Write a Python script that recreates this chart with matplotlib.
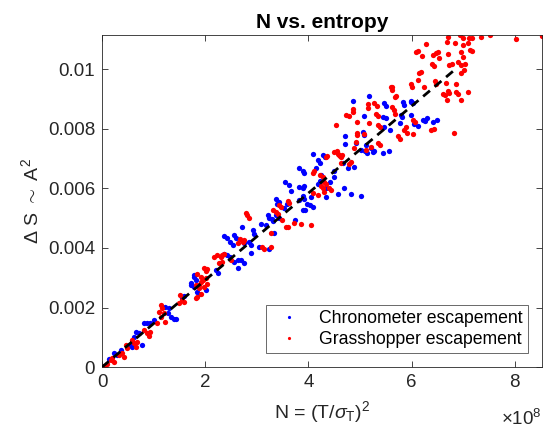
import numpy as np
import matplotlib
matplotlib.use("Agg")
import matplotlib.pyplot as plt
from matplotlib.ticker import FuncFormatter

plt.rcParams['font.family'] = ['Liberation Sans', 'DejaVu Sans']
plt.rcParams['mathtext.fontset'] = 'custom'
plt.rcParams['mathtext.rm'] = 'Liberation Sans'
plt.rcParams['mathtext.it'] = 'Liberation Sans:italic'

# N in units of 1e8, entropy in units of 1e-3
chrono_n = [5.99, 6.02, 5.99, 6.05, 6.12, 6.22, 6.30, 6.26, 6.41, 6.50,
            5.18, 4.87, 5.47, 5.50, 5.83, 5.86, 5.98, 5.08, 5.44, 5.50,
            5.80, 5.81, 5.78, 5.47, 5.05, 5.08, 5.59, 4.71, 4.71, 4.92,
            5.12, 5.02, 5.10, 5.14, 5.21, 5.25, 5.28, 5.44, 5.57, 4.68,
            4.77, 4.88, 5.02, 4.83, 4.70, 4.57, 4.34,
            4.08, 4.28, 4.32, 4.18, 4.23, 3.82, 3.89, 3.92, 4.15, 4.24,
            4.49, 4.50, 3.54, 3.63, 3.67, 3.82, 3.89, 3.92, 4.19, 4.23,
            4.34, 4.42, 3.89, 3.92, 4.05, 3.97, 4.03, 4.08, 3.89, 3.93,
            3.37, 3.43, 3.40, 3.53, 3.58, 3.74, 3.37, 3.32, 3.82,
            3.21, 3.24, 3.30, 3.43, 3.08, 3.17, 3.34, 2.72, 2.92, 2.95,
            2.37, 2.43, 2.56, 2.59, 2.48, 2.53, 2.75, 2.85, 2.88, 2.88,
            3.04, 3.24, 2.37, 2.43, 2.48, 2.56, 2.63, 2.69, 2.75, 2.63,
            2.20, 2.24, 1.78, 1.82, 1.72, 2.01,
            1.72, 1.78, 1.88, 1.85, 1.56, 1.59, 1.23, 1.30, 1.27, 1.33,
            1.39, 0.81, 0.88, 1.01, 0.65, 0.71, 0.55, 0.78, 0.59, 0.23,
            0.30, 0.36, 0.13, 0.62, 0.94, 1.43, 1.78]
chrono_ds = [8.94, 8.87, 8.46, 8.15, 8.09, 8.31, 8.35, 8.27, 8.23, 8.29,
             9.09, 8.94, 8.85, 8.76, 8.90, 8.79, 8.90, 8.42, 8.38, 8.35,
             8.46, 8.38, 8.18, 8.06, 7.90, 7.79, 7.95, 7.75, 7.48, 7.51,
             7.45, 7.28, 7.26, 7.19, 7.34, 7.22, 7.26, 7.19, 7.26, 6.86,
             6.70, 6.72, 5.75, 5.81, 6.01, 5.81, 5.71,
             7.15, 7.11, 7.04, 6.95, 6.86, 6.67, 6.59, 6.52, 6.67, 6.44,
             6.59, 6.39, 6.22, 6.11, 5.92, 6.05, 6.00, 6.07, 6.16, 6.25,
             6.00, 6.22, 5.74, 5.63, 5.71, 5.49, 5.44, 5.38, 5.29, 5.27,
             5.63, 5.55, 5.47, 5.33, 5.49, 4.93, 5.10, 4.91, 5.60,
             5.10, 4.99, 4.96, 4.99, 4.82, 4.77, 4.49, 4.69, 4.60, 4.46,
             4.40, 4.35, 4.43, 4.32, 4.20, 4.09, 4.15, 4.20, 4.09, 3.84,
             4.04, 3.98, 3.81, 3.76, 3.70, 3.53, 3.59, 3.59, 3.48, 3.31,
             3.26, 3.16, 3.09, 2.92, 2.75, 2.58,
             2.81, 2.69, 2.47, 2.53, 2.31, 2.38, 2.02, 1.97, 1.80, 1.69,
             1.63, 1.47, 1.49, 1.58, 1.18, 1.13, 0.74, 0.74, 0.68, 0.46,
             0.40, 0.57, 0.26, 1.02, 1.47, 1.63, 3.03]

grass_n = [6.93, 6.70, 6.99, 7.12, 7.17, 7.34, 7.52, 8.03, 8.53, 6.28,
           6.69, 6.84, 6.99, 7.10, 6.09, 6.12, 6.20, 6.41, 6.48, 6.52,
           6.54, 6.71, 6.95, 7.14, 7.17, 6.99, 6.40, 6.43, 6.73, 6.78,
           6.90, 6.95, 7.03, 6.15, 6.18, 6.12, 6.96, 7.01, 5.99, 6.25,
           6.46, 6.48, 6.67, 6.86, 6.61, 6.64, 6.68, 6.70, 6.73, 6.86,
           6.90, 6.95, 7.10, 6.38, 6.43, 6.82, 6.02,
           5.63, 6.00, 5.67, 5.70, 5.63, 5.65, 5.15, 5.16, 5.28, 5.33,
           4.86, 4.87, 4.73, 4.79, 5.31, 5.34, 5.67, 4.95, 5.18, 5.34,
           5.39, 6.02, 6.07, 5.86, 5.91, 4.95, 4.94, 5.07, 5.73, 5.78,
           4.92, 5.34, 5.39, 5.21, 4.66, 4.63, 4.89,
           5.60, 5.63, 4.53, 5.89, 5.12, 4.50, 4.55, 4.57, 4.62,
           4.34, 4.37, 4.60, 4.63, 4.83, 4.79, 4.08, 4.11, 4.23, 4.28,
           4.31, 4.34, 4.24, 4.28, 4.31, 4.08, 4.18, 4.40, 4.44, 3.60,
           3.63, 3.43, 3.47, 3.32, 3.48, 3.56, 3.61, 3.85, 4.05, 3.27,
           3.72,
           2.79, 2.82, 2.85, 3.37, 3.41, 2.68, 2.73, 2.75, 2.63, 3.11,
           3.14, 3.27, 2.17, 2.22, 2.30, 2.33, 2.37, 2.33, 2.27, 2.50,
           1.98, 2.01, 2.04, 1.85, 1.91, 1.95, 2.01, 1.82, 1.88, 1.98,
           2.04, 1.91, 1.85,
           1.91, 1.88, 1.52, 1.56, 1.59, 1.49, 1.82, 1.14, 1.17, 1.10,
           1.20, 1.14, 1.23, 1.07, 0.81, 0.88, 0.91, 0.94, 0.59, 0.62,
           0.68, 0.65, 0.46, 0.49, 0.33, 0.39, 0.42, 0.17, 0.20, 0.10,
           0.23, 0.03]
grass_ds = [11.14, 11.08, 11.06, 11.06, 11.04, 11.08, 11.15, 11.03, 11.12, 10.86,
            10.90, 10.88, 10.81, 10.88, 10.58, 10.61, 10.44, 10.47, 10.55, 10.58,
            10.39, 10.50, 10.57, 10.64, 10.61, 10.41, 10.17, 10.11, 10.13, 10.19,
            10.24, 10.13, 10.19, 9.88, 9.91, 9.65, 9.88, 9.97, 9.52, 9.39,
            9.61, 9.52, 9.54, 9.52, 9.18, 9.13, 8.98, 9.27, 9.20, 9.24,
            9.16, 8.98, 9.24, 7.95, 7.98, 7.86, 7.82,
            9.39, 9.39, 9.07, 9.09, 8.73, 8.62, 8.83, 8.71, 8.85, 8.76,
            8.65, 8.57, 8.46, 8.42, 8.51, 8.43, 8.51, 8.23, 8.18, 8.14,
            8.06, 8.31, 8.23, 7.95, 7.86, 7.86, 7.79, 7.84, 7.75, 7.67,
            7.56, 7.51, 7.45, 7.39, 7.11, 6.86, 7.34,
            9.41, 9.30, 8.12, 8.06, 7.28, 7.22, 7.26, 7.17, 7.08,
            7.04, 7.08, 7.11, 7.04, 6.89, 6.81, 6.52, 6.59, 6.44, 6.39,
            6.22, 6.16, 6.07, 6.00, 5.88, 5.85, 5.77, 6.00, 5.96, 5.58,
            5.51, 5.44, 5.38, 5.27, 4.93, 4.71, 4.69, 4.80, 4.77, 4.49,
            4.85,
            5.18, 5.10, 5.02, 5.21, 5.13, 4.29, 4.20, 4.26, 4.15, 4.04,
            3.95, 4.04, 3.70, 3.76, 3.68, 3.76, 3.81, 3.53, 3.48, 3.61,
            3.31, 3.23, 3.28, 3.12, 3.03, 2.92, 2.98, 2.75, 2.64, 2.69,
            2.79, 2.47, 2.34,
            2.86, 2.75, 2.42, 2.25, 2.19, 2.14, 2.31, 2.08, 1.97, 1.86,
            1.80, 1.69, 1.52, 1.47, 1.24, 1.13, 1.04, 1.18, 0.91, 0.80,
            0.85, 0.68, 0.74, 0.63, 0.40, 0.46, 0.35, 0.23, 0.29, 0.12,
            0.18, 0.03]

fit_n = [0.0, 6.87]
fit_ds = [0.0, 10.03]

cn = np.array(chrono_n) * 1e8
cd = np.array(chrono_ds) * 1e-3
gn = np.array(grass_n) * 1e8
gd = np.array(grass_ds) * 1e-3

fig = plt.figure(figsize=(5.44, 4.37), dpi=100)
ax = fig.add_axes([0.1875, 0.160, 0.809, 0.760])

ax.plot(cn, cd, 'o', color='blue', ms=3.8, mec='none', label='Chronometer escapement')
ax.plot(gn, gd, 'o', color='red', ms=3.8, mec='none', label='Grasshopper escapement')
ax.plot(np.array(fit_n) * 1e8, np.array(fit_ds) * 1e-3, color='black', lw=2,
        dashes=(3.2, 2.2), zorder=5)

ax.set_xlim(0, max(cn.max(), gn.max()))
ax.set_ylim(0, max(cd.max(), gd.max()))
ax.set_xticks([0, 2e8, 4e8, 6e8, 8e8])
ax.set_yticks([0, 0.002, 0.004, 0.006, 0.008, 0.01])
ax.xaxis.set_major_formatter(FuncFormatter(lambda v, p: '%g' % (v / 1e8)))
ax.yaxis.set_major_formatter(FuncFormatter(lambda v, p: '%g' % v))

axc = '#262626'
for s in ax.spines.values():
    s.set_color(axc)
    s.set_linewidth(0.6)
ax.tick_params(direction='in', length=4, width=0.6, color=axc, labelcolor=axc,
               labelsize=13.5, top=True, right=True, pad=5)

ax.set_title('N vs. entropy', fontsize=15, fontweight='bold', color='black', pad=5)
ax.set_xlabel(r'N = (T/$\sigma_\mathrm{T}$)$^2$', fontsize=14, color=axc, labelpad=6)
ax.set_ylabel(r'$\Delta$ S $\sim$ A$^2$', fontsize=14, color=axc, labelpad=4)
ax.text(1.0, -0.125, r'$\times10^8$', transform=ax.transAxes, ha='right', va='top',
        fontsize=13.5, color=axc)

leg = ax.legend(loc='lower right', fontsize=12.7, frameon=True, fancybox=False,
                edgecolor=axc, handlelength=2.0, handletextpad=0.7, markerscale=0.6,
                borderaxespad=0.8, borderpad=0.3, labelspacing=0.2)
leg.get_frame().set_linewidth(0.6)

fig.savefig('out.png', dpi=100)
